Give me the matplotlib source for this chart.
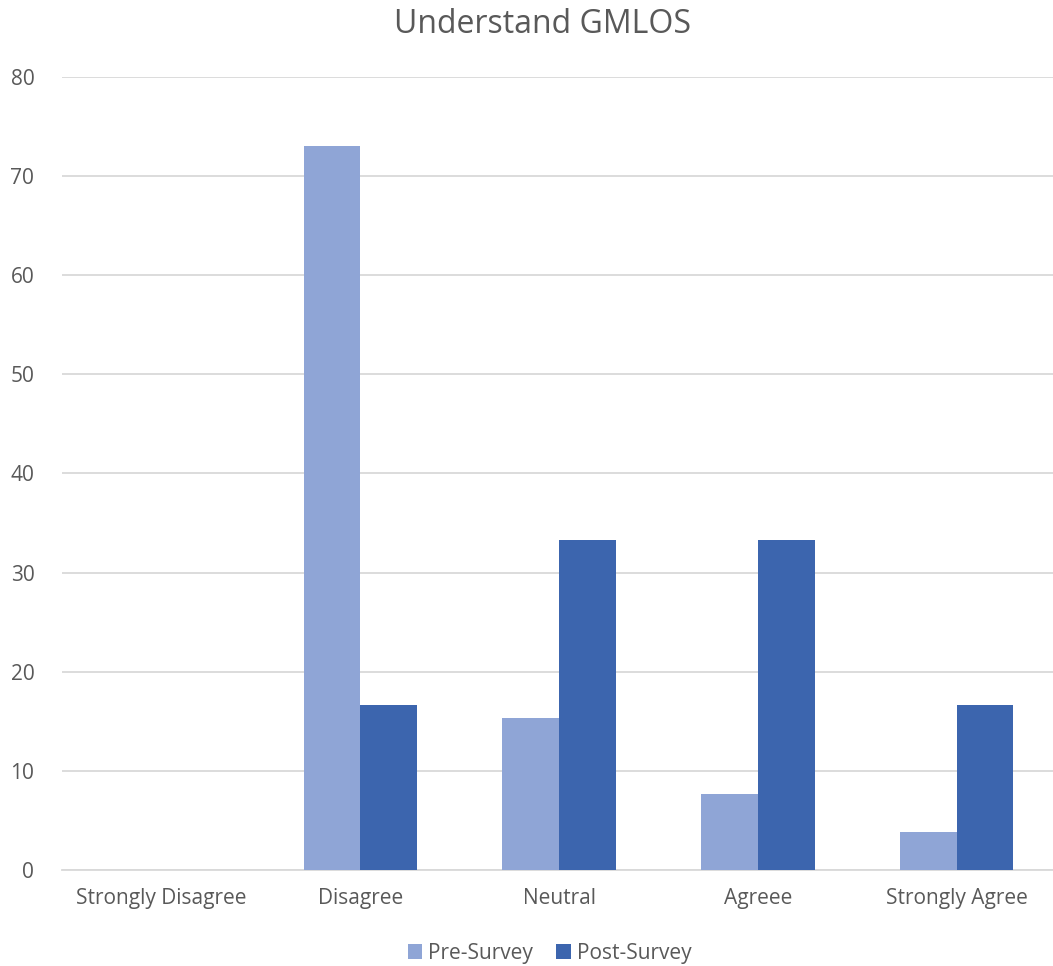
import matplotlib
matplotlib.use("Agg")
import matplotlib.pyplot as plt
import numpy as np

categories = ["Strongly Disagree", "Disagree", "Neutral", "Agreee", "Strongly Agree"]
pre_survey = [0, 73.08, 15.38, 7.69, 3.85]
post_survey = [0, 16.67, 33.33, 33.33, 16.67]
series_names = ["Pre-Survey", "Post-Survey"]
y_ticks = [0, 10, 20, 30, 40, 50, 60, 70, 80]

plt.rcParams["font.family"] = ["Open Sans", "DejaVu Sans"]
text_color = "#595959"

fig = plt.figure(figsize=(10.53, 9.66), dpi=100)
ax = fig.add_axes([0.059, 0.0994, 0.944, 0.8209])

x = np.arange(len(categories))
w = 0.285
ax.bar(x - w / 2, pre_survey, width=w, color="#8FA5D6", label=series_names[0], zorder=3)
ax.bar(x + w / 2, post_survey, width=w, color="#3C65AE", label=series_names[1], zorder=3)

ax.set_xlim(-0.5, len(categories) - 0.5)
ax.set_ylim(0, 80)
ax.set_yticks(y_ticks)
ax.set_xticks(x)
ax.set_xticklabels(categories)
ax.tick_params(axis="both", length=0, labelsize=15, colors=text_color)
ax.tick_params(axis="x", pad=13)
ax.tick_params(axis="y", pad=20)
ax.grid(axis="y", color="#D9D9D9", linewidth=1.3, zorder=0)
for s in ["top", "right", "left"]:
    ax.spines[s].set_visible(False)
ax.spines["bottom"].set_color("#D9D9D9")
ax.spines["bottom"].set_linewidth(1.3)

fig.text(0.515, 0.975, "Understand GMLOS", ha="center", va="center",
         fontsize=23, color=text_color)

leg = fig.legend(loc="center", bbox_to_anchor=(0.522, 0.013), ncol=2, frameon=False,
                 fontsize=15, handlelength=0.7, handleheight=0.7,
                 handletextpad=0.3, columnspacing=1.1)
for t in leg.get_texts():
    t.set_color(text_color)

fig.savefig("out.png", dpi=100, facecolor="white")
